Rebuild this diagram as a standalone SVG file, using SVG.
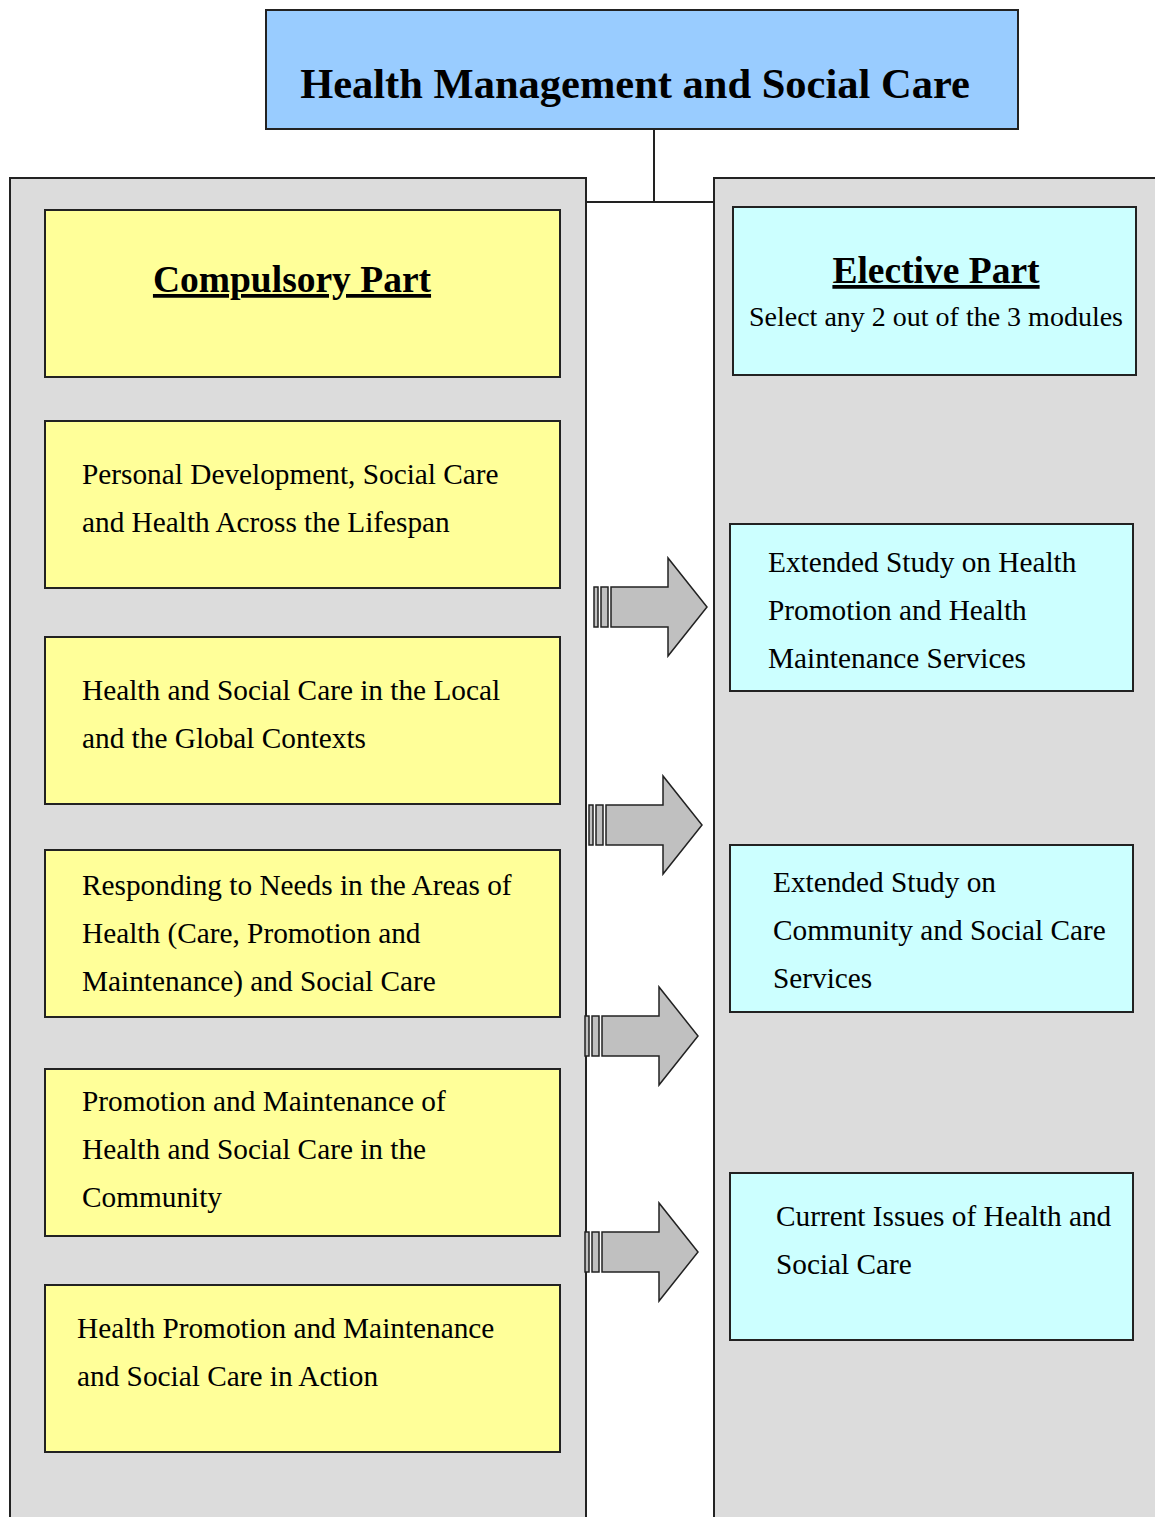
<svg xmlns="http://www.w3.org/2000/svg" width="1155" height="1517" viewBox="0 0 1155 1517">
<style>
.panel{fill:#dcdcdc;stroke:#222;stroke-width:2}
.y{fill:#ffff99;stroke:#222;stroke-width:2}
.c{fill:#ccffff;stroke:#222;stroke-width:2}
text{font-family:"Liberation Serif","Times New Roman","DejaVu Serif",serif;fill:#000}
.t{font-size:29.3px}
.h{font-weight:bold}
.arr{fill:#c0c0c0;stroke:#222;stroke-width:1.5}
.ln{stroke:#222;stroke-width:2;fill:none}
</style>
<rect width="1155" height="1517" fill="#fff"/>
<g id="connectors">
<path class="ln" d="M654 129 V202 M586 202 H714"/>
</g>
<g id="left-panel"><rect class="panel" x="10" y="178" width="576" height="1345"/></g>
<g id="right-panel"><rect class="panel" x="714" y="178" width="450" height="1345"/></g>
<g id="title">
<rect x="266" y="10" width="752" height="119" fill="#99ccff" stroke="#222" stroke-width="2"/>
<text class="h" x="635" y="98" font-size="42.5" text-anchor="middle">Health Management and Social Care</text>
</g>
<g id="compulsory">
<rect class="y" x="45" y="210" width="515" height="167"/>
<text class="h" x="292" y="292" font-size="37.5" text-anchor="middle" text-decoration="underline">Compulsory Part</text>
</g>
<g id="c1">
<rect class="y" x="45" y="421" width="515" height="167"/>
<text class="t" x="82" y="484">Personal Development, Social Care</text>
<text class="t" x="82" y="532">and Health Across the Lifespan</text>
</g>
<g id="c2">
<rect class="y" x="45" y="637" width="515" height="167"/>
<text class="t" x="82" y="700">Health and Social Care in the Local</text>
<text class="t" x="82" y="748">and the Global Contexts</text>
</g>
<g id="c3">
<rect class="y" x="45" y="850" width="515" height="167"/>
<text class="t" x="82" y="895">Responding to Needs in the Areas of</text>
<text class="t" x="82" y="943">Health (Care, Promotion and</text>
<text class="t" x="82" y="991">Maintenance) and Social Care</text>
</g>
<g id="c4">
<rect class="y" x="45" y="1069" width="515" height="167"/>
<text class="t" x="82" y="1111">Promotion and Maintenance of</text>
<text class="t" x="82" y="1159">Health and Social Care in the</text>
<text class="t" x="82" y="1207">Community</text>
</g>
<g id="c5">
<rect class="y" x="45" y="1285" width="515" height="167"/>
<text class="t" x="77" y="1338">Health Promotion and Maintenance</text>
<text class="t" x="77" y="1386">and Social Care in Action</text>
</g>
<g id="elective">
<rect class="c" x="733" y="207" width="403" height="168"/>
<text class="h" x="936" y="283" font-size="37.5" text-anchor="middle" text-decoration="underline">Elective Part</text>
<text x="936" y="326" font-size="28" text-anchor="middle">Select any 2 out of the 3 modules</text>
</g>
<g id="e1">
<rect class="c" x="730" y="524" width="403" height="167"/>
<text class="t" x="768" y="572">Extended Study on Health</text>
<text class="t" x="768" y="620">Promotion and Health</text>
<text class="t" x="768" y="668">Maintenance Services</text>
</g>
<g id="e2">
<rect class="c" x="730" y="845" width="403" height="167"/>
<text class="t" x="773" y="892">Extended Study on</text>
<text class="t" x="773" y="940">Community and Social Care</text>
<text class="t" x="773" y="988">Services</text>
</g>
<g id="e3">
<rect class="c" x="730" y="1173" width="403" height="167"/>
<text class="t" x="776" y="1226">Current Issues of Health and</text>
<text class="t" x="776" y="1274">Social Care</text>
</g>
<g id="arrows">
<g>
<rect class="arr" x="594" y="587" width="4" height="40"/>
<rect class="arr" x="601" y="587" width="7" height="40"/>
<path class="arr" d="M611 587 H668 V558 L707 607 L668 656 V627 H611 Z"/>
</g>
<g transform="translate(-5,218)">
<rect class="arr" x="594" y="587" width="4" height="40"/>
<rect class="arr" x="601" y="587" width="7" height="40"/>
<path class="arr" d="M611 587 H668 V558 L707 607 L668 656 V627 H611 Z"/>
</g>
<g transform="translate(-9,429)">
<rect class="arr" x="594" y="587" width="4" height="40"/>
<rect class="arr" x="601" y="587" width="7" height="40"/>
<path class="arr" d="M611 587 H668 V558 L707 607 L668 656 V627 H611 Z"/>
</g>
<g transform="translate(-9,645)">
<rect class="arr" x="594" y="587" width="4" height="40"/>
<rect class="arr" x="601" y="587" width="7" height="40"/>
<path class="arr" d="M611 587 H668 V558 L707 607 L668 656 V627 H611 Z"/>
</g>
</g>
</svg>
